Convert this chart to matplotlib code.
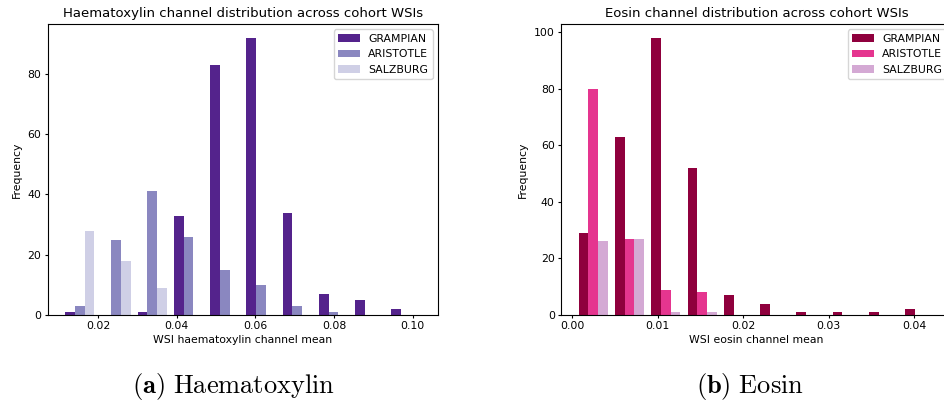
import numpy as np
import matplotlib
matplotlib.use("Agg")
import matplotlib.pyplot as plt

plt.rcParams['mathtext.fontset'] = 'cm'

cohorts = ['GRAMPIAN', 'ARISTOTLE', 'SALZBURG']

# haematoxylin histogram: 10 equal bins over the range of WSI means
h_range = (0.01078, 0.10285)
h_grampian = [1, 0, 1, 33, 83, 92, 34, 7, 5, 2]
h_aristotle = [3, 25, 41, 26, 15, 10, 3, 1, 0, 0]
h_salzburg = [28, 18, 9, 0, 0, 0, 0, 0, 0, 0]

# eosin histogram
e_range = (0.00035, 0.04278)
e_grampian = [29, 63, 98, 52, 7, 4, 1, 1, 1, 2]
e_aristotle = [80, 27, 9, 8, 0, 0, 0, 0, 0, 0]
e_salzburg = [26, 27, 1, 1, 0, 0, 0, 0, 0, 0]

h_colors = ['#54238c', '#8a87c0', '#cfcfe6']
e_colors = ['#8f003d', '#e5358f', '#d4a9d4']

fig = plt.figure(figsize=(9.44, 4.03), dpi=100)
ax1 = fig.add_axes([0.0505, 0.2184, 0.4135, 0.7221])
ax2 = fig.add_axes([0.5943, 0.2184, 0.4141, 0.7221])


def draw(ax, rng, counts, colors, title, xlabel):
    edges = np.linspace(rng[0], rng[1], len(counts[0]) + 1)
    centers = (edges[:-1] + edges[1:]) / 2
    ax.hist([centers] * len(counts), bins=edges, weights=counts,
            color=colors, label=cohorts)
    ax.set_title(title, fontsize=9.5, pad=5)
    ax.set_xlabel(xlabel, fontsize=7.8, labelpad=3)
    ax.set_ylabel('Frequency', fontsize=7.8, labelpad=4)
    ax.tick_params(labelsize=7.8, length=2.5, pad=2)
    ax.legend(fontsize=7.8, loc='upper right')


draw(ax1, h_range, [h_grampian, h_aristotle, h_salzburg], h_colors,
     'Haematoxylin channel distribution across cohort WSIs',
     'WSI haematoxylin channel mean')
ax1.set_xticks([0.02, 0.04, 0.06, 0.08, 0.10])
ax1.set_yticks([0, 20, 40, 60, 80])

draw(ax2, e_range, [e_grampian, e_aristotle, e_salzburg], e_colors,
     'Eosin channel distribution across cohort WSIs',
     'WSI eosin channel mean')
ax2.set_xticks([0.00, 0.01, 0.02, 0.03, 0.04])

fig.text(0.247, 0.042, r'$\mathbf{(a)}\ \mathrm{Haematoxylin}$',
         ha='center', va='center', fontsize=19)
fig.text(0.794, 0.042, r'$\mathbf{(b)}\ \mathrm{Eosin}$',
         ha='center', va='center', fontsize=19)

fig.savefig('out.png', dpi=100)
